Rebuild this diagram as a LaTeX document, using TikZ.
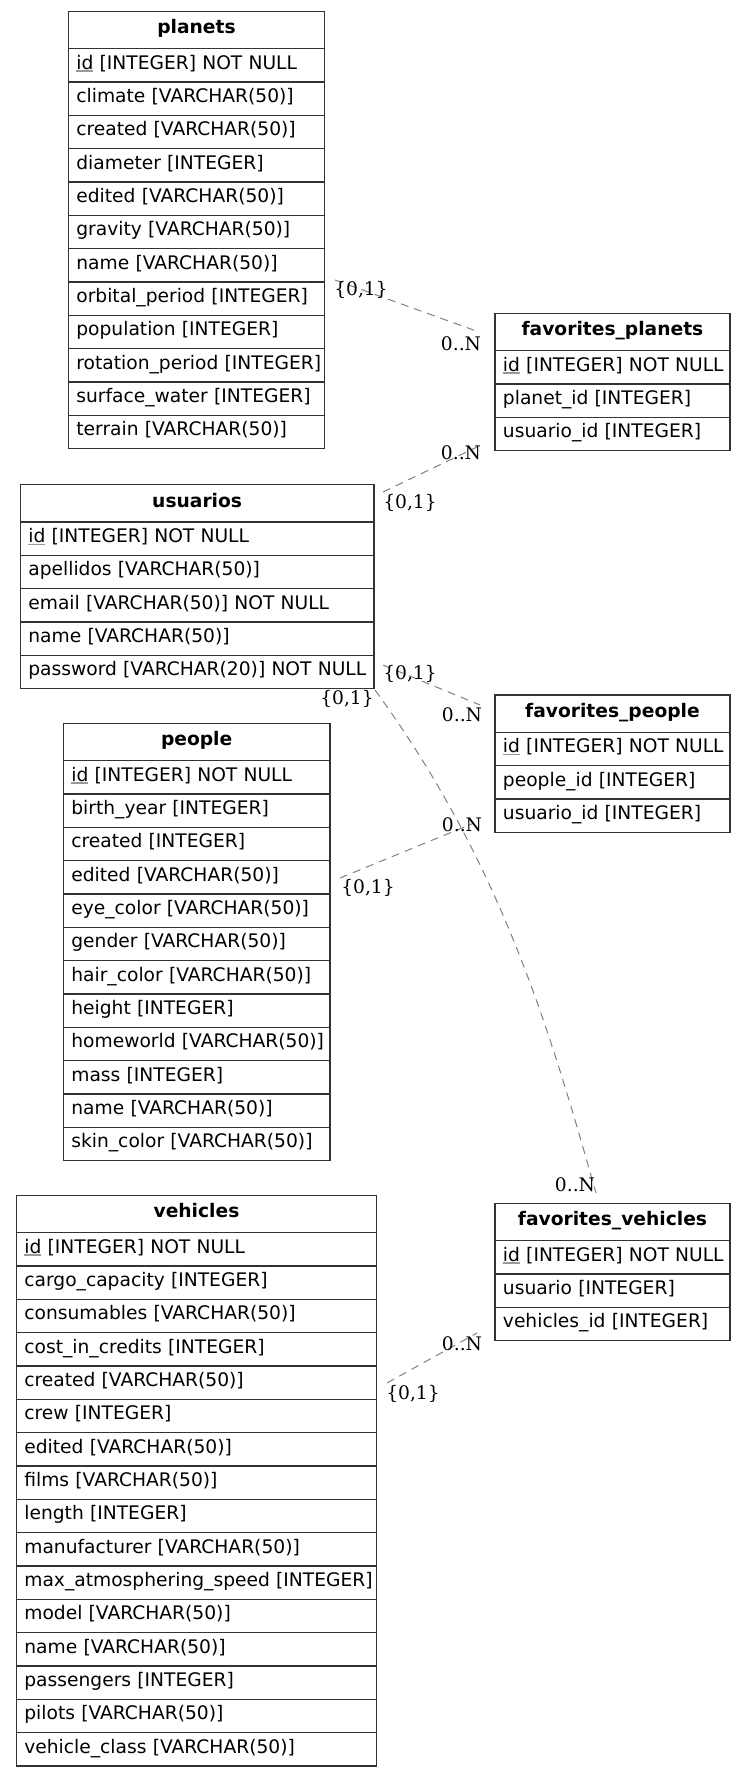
\documentclass[tikz,border=0pt]{standalone}
\usepackage{fontspec}
\usepackage{calc}
\setmainfont{DejaVu Sans}
\newfontfamily\labfont{DejaVu Serif}
\usetikzlibrary{calc}

\newcommand\pk[1]{\leavevmode\rlap{\textcolor{black!40}{\rule[-2.4pt]{\widthof{#1}}{1.1pt}}}#1}

\tikzset{
  tabline/.style={draw=black!80, line width=1.3pt},
  hdrcell/.style={tabline, inner sep=0pt, minimum height=37.33pt,
    text height=22.6pt, text depth=14.73pt,
    font=\fontsize{18.67}{22}\selectfont\bfseries},
  rowcell/.style={tabline, inner xsep=8pt, inner ysep=0pt, minimum height=33.33pt,
    text height=20.5pt, text depth=12.83pt, align=left,
    font=\fontsize{18.67}{22}\selectfont},
  lab/.style={inner sep=0pt, font=\labfont\fontsize{18.67}{22}\selectfont},
  rel/.style={draw=black!50, line width=1pt, dash pattern=on 8pt off 6pt}
}

\newcommand\ertable[6]{%
  \pgfmathsetmacro\ertw{#4-16}%
  \node[hdrcell, minimum width=#4pt, anchor=north west] (#1) at (#2,#3) {#5};
  \foreach \txt [count=\i] in {#6}{%
    \node[rowcell, text width=\ertw pt, anchor=north west] (#1-\i)
      at ({#2},{#3+37.33+(\i-1)*33.33}) {\mbox{\txt}};
  }%
}

\begin{document}
\begin{tikzpicture}[x=1pt,y=-1pt]
\useasboundingbox (0,0) rectangle (745,1776);

\ertable{planets}{67.7}{10.7}{256.3}{planets}{%
  \pk{id} [INTEGER] NOT NULL, climate [VARCHAR(50)], created [VARCHAR(50)],
  diameter [INTEGER], edited [VARCHAR(50)], gravity [VARCHAR(50)],
  name [VARCHAR(50)], orbital\_period [INTEGER], population [INTEGER],
  rotation\_period [INTEGER], surface\_water [INTEGER], terrain [VARCHAR(50)]}

\ertable{favplanets}{494.3}{312.7}{235}{favorites\_planets}{%
  \pk{id} [INTEGER] NOT NULL, planet\_id [INTEGER], usuario\_id [INTEGER]}

\ertable{usuarios}{19.7}{484}{353.6}{usuarios}{%
  \pk{id} [INTEGER] NOT NULL, apellidos [VARCHAR(50)],
  email [VARCHAR(50)] NOT NULL, name [VARCHAR(50)],
  password [VARCHAR(20)] NOT NULL}

\ertable{favpeople}{494.3}{694.3}{235}{favorites\_people}{%
  \pk{id} [INTEGER] NOT NULL, people\_id [INTEGER], usuario\_id [INTEGER]}

\ertable{people}{62.7}{722.7}{266.6}{people}{%
  \pk{id} [INTEGER] NOT NULL, birth\_year [INTEGER], created [INTEGER],
  edited [VARCHAR(50)], eye\_color [VARCHAR(50)], gender [VARCHAR(50)],
  hair\_color [VARCHAR(50)], height [INTEGER], homeworld [VARCHAR(50)],
  mass [INTEGER], name [VARCHAR(50)], skin\_color [VARCHAR(50)]}

\ertable{vehicles}{15.7}{1194.7}{360.3}{vehicles}{%
  \pk{id} [INTEGER] NOT NULL, cargo\_capacity [INTEGER],
  consumables [VARCHAR(50)], cost\_in\_credits [INTEGER],
  created [VARCHAR(50)], crew [INTEGER], edited [VARCHAR(50)],
  films [VARCHAR(50)], length [INTEGER], manufacturer [VARCHAR(50)],
  max\_atmosphering\_speed [INTEGER], model [VARCHAR(50)],
  name [VARCHAR(50)], passengers [INTEGER], pilots [VARCHAR(50)],
  vehicle\_class [VARCHAR(50)]}

\ertable{favvehicles}{494.3}{1202.7}{235}{favorites\_vehicles}{%
  \pk{id} [INTEGER] NOT NULL, usuario [INTEGER], vehicles\_id [INTEGER]}

% connector end points
\coordinate (c1a) at (335,280);   \coordinate (c1b) at (479,332);
\coordinate (c2a) at (383,492);   \coordinate (c2b) at (477,447);
\coordinate (c3a) at (383,665);   \coordinate (c3b) at (480,705);
\coordinate (c4a) at (375,690);   \coordinate (c4b) at (596,1193);
\coordinate (c5a) at (340,878);   \coordinate (c5b) at (474,823);
\coordinate (c6a) at (387,1383);  \coordinate (c6b) at (477,1333);

\draw[rel] (c1a) -- (c1b);
\draw[rel] (c2a) -- (c2b);
\draw[rel] (c3a) -- (c3b);
\draw[rel] (c4a) .. controls (499,860) and (548,1023) .. (c4b);
\draw[rel] (c5a) -- (c5b);
\draw[rel] (c6a) -- (c6b);

% cardinality labels
\node[lab] (l1a) at (361,290) {\{0,1\}};
\node[lab] (l1b) at (461,344) {0..N};
\node[lab] (l2a) at (410,503) {\{0,1\}};
\node[lab] (l2b) at (461,453) {0..N};
\node[lab] (l3a) at (410,674) {\{0,1\}};
\node[lab] (l3b) at (462,715) {0..N};
\node[lab] (l4a) at (347,699) {\{0,1\}};
\node[lab] (l4b) at (575,1185) {0..N};
\node[lab] (l5a) at (368,888) {\{0,1\}};
\node[lab] (l5b) at (462,825) {0..N};
\node[lab] (l6a) at (413,1394) {\{0,1\}};
\node[lab] (l6b) at (462,1344) {0..N};
\end{tikzpicture}
\end{document}
